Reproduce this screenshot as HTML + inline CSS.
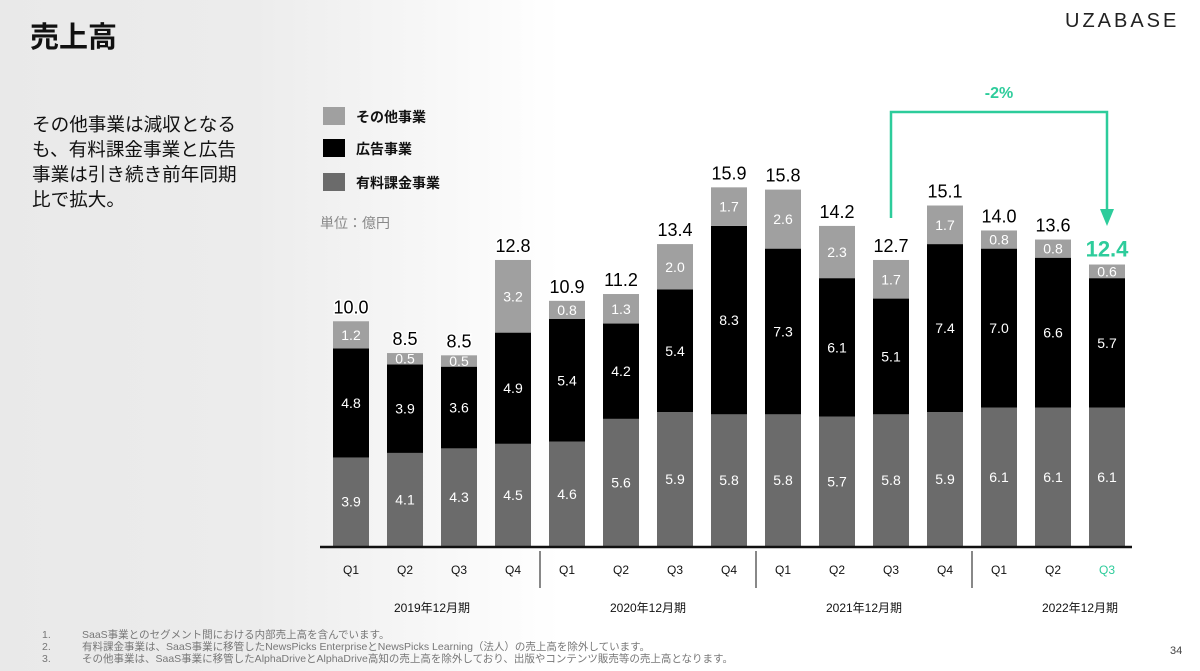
<!DOCTYPE html>
<html><head><meta charset="utf-8"><style>
body{margin:0;width:1200px;height:671px;overflow:hidden;background:#fff;font-family:"Liberation Sans","Noto Sans CJK JP",sans-serif;position:relative}
#bg{position:absolute;left:0;top:0;width:560px;height:671px;background:linear-gradient(90deg,#e9e9e9 0%,#ececec 45%,#fff 100%)}
h1{position:absolute;left:30px;top:14px;margin:0;font-size:29px;font-weight:bold;color:#111}
#logo{position:absolute;left:1065px;top:10px;font-size:20px;letter-spacing:3px;color:#222}
#desc{position:absolute;left:32px;top:112px;font-size:18.6px;line-height:25px;color:#111;width:212px}
#notes{position:absolute;left:42px;top:629px;font-size:10.5px;line-height:12px;color:#777}
#notes span{display:inline-block;width:40px}
#page{position:absolute;left:1170px;top:645px;font-size:11px;color:#444}
svg{position:absolute;left:0;top:0}
</style></head><body>
<div id="bg"></div>
<h1>売上高</h1>
<div id="logo">UZABASE</div>
<div id="desc">その他事業は減収となる<br>も、有料課金事業と広告<br>事業は引き続き前年同期<br>比で拡大。</div>
<div id="notes">
<div><span>1.</span>SaaS事業とのセグメント間における内部売上高を含んでいます。</div>
<div><span>2.</span>有料課金事業は、SaaS事業に移管したNewsPicks EnterpriseとNewsPicks Learning（法人）の売上高を除外しています。</div>
<div><span>3.</span>その他事業は、SaaS事業に移管したAlphaDriveとAlphaDrive高知の売上高を除外しており、出版やコンテンツ販売等の売上高となります。</div>
</div>
<div id="page">34</div>
<svg id="chart" width="1200" height="671"></svg>
<script>
const quarters=["Q1","Q2","Q3","Q4","Q1","Q2","Q3","Q4","Q1","Q2","Q3","Q4","Q1","Q2","Q3"];
const years=["2019年12月期","2020年12月期","2021年12月期","2022年12月期"];
const paid=[3.9,4.1,4.3,4.5,4.6,5.6,5.9,5.8,5.8,5.7,5.8,5.9,6.1,6.1,6.1];
const ads=[4.8,3.9,3.6,4.9,5.4,4.2,5.4,8.3,7.3,6.1,5.1,7.4,7.0,6.6,5.7];
const other=[1.2,0.5,0.5,3.2,0.8,1.3,2.0,1.7,2.6,2.3,1.7,1.7,0.8,0.8,0.6];
const totals=["10.0","8.5","8.5","12.8","10.9","11.2","13.4","15.9","15.8","14.2","12.7","15.1","14.0","13.6","12.4"];
const NS="http://www.w3.org/2000/svg",svg=document.getElementById('chart');
const base=546,k=22.7,x0=351,step=54,bw=36,teal="#2dcc9b";
const X=i=>x0+i*step, Y=v=>base-v*k;
function el(t,a,p){const e=document.createElementNS(NS,t);for(const n in a)e.setAttribute(n,a[n]);(p||svg).appendChild(e);return e}
function txt(s,x,y,a){const e=el('text',Object.assign({x:x,y:y,'text-anchor':'middle'},a));e.textContent=s;return e}
[["#a0a0a0","その他事業",116],["#000","広告事業",148],["#6b6b6b","有料課金事業",182]].forEach((l,i)=>{
 const r=el('rect',{x:323,y:l[2]-9,width:22,height:18,fill:l[0]});
 
 const t=txt(l[1],356,l[2]+6,{'text-anchor':'start','font-size':14,'font-weight':'bold',fill:'#111'});
 
});
const u=txt("単位：億円",320,228,{'text-anchor':'start','font-size':14,fill:'#888'});

quarters.forEach((q,i)=>{
 const x=X(i);let acc=0;
 [[paid[i],'#6b6b6b','bar-paid'],[ads[i],'#000','bar-ads'],[other[i],'#a0a0a0','bar-other']].forEach(s=>{
  const y1=Y(acc),y2=Y(acc+s[0]);
  const r=el('rect',{x:x-bw/2,y:y2,width:bw,height:y1-y2,fill:s[1]});
  
  const t=txt(s[0].toFixed(1),x,(y1+y2)/2+5,{'font-size':14,fill:'#fff'});
  
  acc+=s[0];
 });
 const last=i===quarters.length-1;
 const t=txt(totals[i],x,Y(acc)-8,{'font-size':last?22:18,'font-weight':last?'bold':'normal',fill:last?teal:'#000',stroke:'#fff','stroke-width':3,'paint-order':'stroke'});
 
 const ql=txt(q,x,574,{'font-size':12,fill:last?teal:'#111'});
 
});
const ax=el('line',{x1:320,x2:1132,y1:547,y2:547,stroke:'#111','stroke-width':2.5});

[3.5,7.5,11.5].forEach(p=>{const s=el('line',{x1:X(p),x2:X(p),y1:551,y2:588,stroke:'#111','stroke-width':1});
 });
years.forEach((y,i)=>{const t=txt(y,X(i*4+1.5),612,{'font-size':12,fill:'#111'});
 });
const g=el('path',{d:`M${X(10)} 218 V112 H${X(14)} V212`,fill:'none',stroke:teal,'stroke-width':2.5});

const ah=el('path',{d:`M${X(14)-7} 209 L${X(14)+7} 209 L${X(14)} 226 Z`,fill:teal});

const pc=txt("-2%",(X(10)+X(14))/2,98,{'font-size':16,'font-weight':'bold',fill:teal});

</script>
</body></html>
